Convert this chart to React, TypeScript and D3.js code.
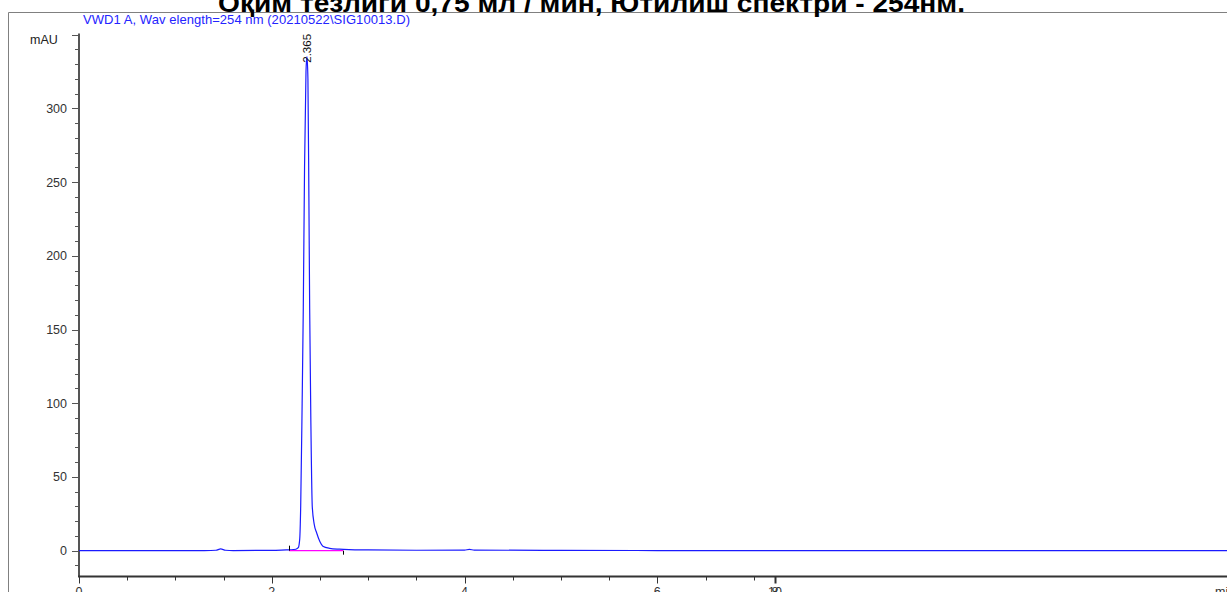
import React, { useEffect, useRef } from "react";
import * as d3 from "d3";

// chromatogram trace: [time (min), signal (mAU)]
const times = [
  0, 0.5, 1.0, 1.3, 1.42, 1.47, 1.52, 1.6, 2.0, 2.15, 2.2, 2.25, 2.275, 2.29, 2.3, 2.315, 2.327, 2.34,
  2.355, 2.365, 2.375, 2.385, 2.393, 2.405, 2.42, 2.44, 2.466, 2.5, 2.53, 2.6, 2.7, 2.8, 3.0, 3.5, 4.0,
  4.05, 4.1, 5.0, 6.0, 8.0, 10.0, 11.95,
];
const signal = [
  0, 0.1, 0, 0.1, 0.3, 1.2, 0.3, 0.1, 0.2, 0.5, 0.6, 1.0, 2, 8, 30, 100, 165, 260,
  325, 335, 320, 240, 165, 90, 30, 18, 12, 6, 3, 1.6, 1.0, 0.7, 0.5, 0.3, 0.4,
  0.9, 0.4, 0.2, 0.1, 0, 0.1, 0,
];

// integration baseline of the peak
const peakStart = 2.18;
const peakEnd = 2.74;
const peakRT = "2.365";

const yMajor = [0, 50, 100, 150, 200, 250, 300, 350];
const yLabels = ["0", "50", "100", "150", "200", "250", "300", ""];
const xMajor = [0, 2, 4, 6];
const xMinor = [0.5, 1, 1.5, 2.5, 3, 3.5, 4.5, 5, 5.5, 6.5, 7];
// the original prints "8" and "10" stacked on one tick
const xOddTick = 7.22;
const xOddLabels = ["8", "10"];

const title = "Оқим тезлиги 0,75 мл / мин,  Ютилиш спектри - 254нм.";
const subtitle = "VWD1 A, Wav elength=254 nm (20210522\\SIG10013.D)";

export default function App() {
  const svgRef = useRef<SVGSVGElement>(null);

  useEffect(() => {
    const W = 1227;
    const H = 592;
    const svg = d3.select(svgRef.current);
    svg.selectAll("*").remove();

    const x = d3.scaleLinear().domain([0, 11.91]).range([79, 1227]);
    const y = d3.scaleLinear().domain([-17.1, 350]).range([575.9, 34.6]);
    const font = "Arial, 'Liberation Sans', sans-serif";

    // outer frame
    svg.append("line").attr("x1", 8.5).attr("x2", 8.5).attr("y1", 12.5).attr("y2", H).attr("stroke", "#808080");
    svg.append("line").attr("x1", 8.5).attr("x2", W).attr("y1", 12.5).attr("y2", 12.5).attr("stroke", "#808080");

    svg
      .append("text")
      .attr("x", 218)
      .attr("y", 11.5)
      .attr("textLength", 747)
      .attr("lengthAdjust", "spacingAndGlyphs")
      .style("font", `bold 26px ${font}`)
      .attr("fill", "#000")
      .text(title);

    svg
      .append("text")
      .attr("x", 83)
      .attr("y", 23.5)
      .attr("textLength", 327)
      .style("font", `13px ${font}`)
      .attr("fill", "#2424ff")
      .text(subtitle);

    svg
      .append("text")
      .attr("x", 30)
      .attr("y", 43.5)
      .style("font", `12.5px ${font}`)
      .attr("fill", "#222")
      .text("mAU");

    // y axis
    const axisColor = "#555";
    svg
      .append("line")
      .attr("x1", x(0))
      .attr("x2", x(0))
      .attr("y1", y(350) - 1)
      .attr("y2", y.range()[0])
      .attr("stroke", axisColor)
      .attr("stroke-width", 2);
    const yMinor = d3.range(-10, 351, 10).filter((v) => v % 50 !== 0);
    svg
      .append("g")
      .selectAll("line")
      .data(yMinor)
      .join("line")
      .attr("x1", x(0) - 4)
      .attr("x2", x(0))
      .attr("y1", (d) => Math.round(y(d)) + 0.5)
      .attr("y2", (d) => Math.round(y(d)) + 0.5)
      .attr("stroke", axisColor);
    svg
      .append("g")
      .selectAll("line")
      .data(yMajor)
      .join("line")
      .attr("x1", x(0) - 7)
      .attr("x2", x(0))
      .attr("y1", (d) => Math.round(y(d)) + 0.5)
      .attr("y2", (d) => Math.round(y(d)) + 0.5)
      .attr("stroke", axisColor);
    svg
      .append("g")
      .selectAll("text")
      .data(yMajor)
      .join("text")
      .attr("x", 67)
      .attr("y", (d) => y(d) + 4.5)
      .attr("text-anchor", "end")
      .style("font", `12.5px ${font}`)
      .attr("fill", "#333")
      .text((d, i) => yLabels[i]);

    // x axis
    const xAxisY = Math.round(y.range()[0]) + 0.5;
    svg
      .append("line")
      .attr("x1", x(0) - 1)
      .attr("x2", W)
      .attr("y1", xAxisY)
      .attr("y2", xAxisY)
      .attr("stroke", "#333")
      .attr("stroke-width", 2);
    svg
      .append("g")
      .selectAll("line")
      .data(xMinor)
      .join("line")
      .attr("x1", (d) => Math.round(x(d)) + 0.5)
      .attr("x2", (d) => Math.round(x(d)) + 0.5)
      .attr("y1", xAxisY)
      .attr("y2", xAxisY + 4)
      .attr("stroke", "#333");
    svg
      .append("g")
      .selectAll("line")
      .data([...xMajor, xOddTick])
      .join("line")
      .attr("x1", (d) => Math.round(x(d)) + 0.5)
      .attr("x2", (d) => Math.round(x(d)) + 0.5)
      .attr("y1", xAxisY)
      .attr("y2", xAxisY + 7)
      .attr("stroke", "#333")
      .attr("stroke-width", (d) => (d === xOddTick ? 2 : 1));
    svg
      .append("g")
      .selectAll("text")
      .data(xMajor)
      .join("text")
      .attr("x", (d) => x(d))
      .attr("y", 596)
      .attr("text-anchor", "middle")
      .style("font", `12.5px ${font}`)
      .attr("fill", "#333")
      .text((d) => String(d));
    svg
      .append("g")
      .selectAll("text")
      .data(xOddLabels)
      .join("text")
      .attr("x", x(xOddTick))
      .attr("y", 596)
      .attr("text-anchor", "middle")
      .style("font", `12.5px ${font}`)
      .attr("fill", "#333")
      .text((d) => d);
    svg
      .append("text")
      .attr("x", 1215)
      .attr("y", 596)
      .style("font", `12.5px ${font}`)
      .attr("fill", "#333")
      .text("min");

    // trace
    const pts = times.map((t, i) => [t, signal[i]] as [number, number]);
    const line = d3
      .line<[number, number]>()
      .x((d) => x(d[0]))
      .y((d) => y(d[1]))
      .curve(d3.curveMonotoneX);
    svg
      .append("path")
      .datum(pts)
      .attr("d", line)
      .attr("fill", "none")
      .attr("stroke", "#1a1aff")
      .attr("stroke-width", 1.2);

    // integration baseline and markers
    svg
      .append("line")
      .attr("x1", x(peakStart))
      .attr("x2", x(peakEnd))
      .attr("y1", y(0))
      .attr("y2", y(0))
      .attr("stroke", "#ff00ff")
      .attr("stroke-width", 1.2);
    svg
      .append("line")
      .attr("x1", Math.round(x(peakStart)) + 0.5)
      .attr("x2", Math.round(x(peakStart)) + 0.5)
      .attr("y1", y(0) - 5)
      .attr("y2", y(0))
      .attr("stroke", "#000");
    svg
      .append("line")
      .attr("x1", Math.round(x(peakEnd)) + 0.5)
      .attr("x2", Math.round(x(peakEnd)) + 0.5)
      .attr("y1", y(0))
      .attr("y2", y(0) + 4)
      .attr("stroke", "#000");

    // retention time label
    const apex = d3.greatest(pts, (d) => d[1])!;
    svg
      .append("text")
      .attr("transform", `translate(${x(apex[0]) + 4},${y(apex[1]) + 6}) rotate(-90)`)
      .style("font", `11.5px ${font}`)
      .attr("fill", "#111")
      .text(peakRT);
  }, []);

  return (
    <svg
      ref={svgRef}
      width={1227}
      height={592}
      style={{ position: "absolute", left: 0, top: 0, background: "#fff" }}
    />
  );
}
